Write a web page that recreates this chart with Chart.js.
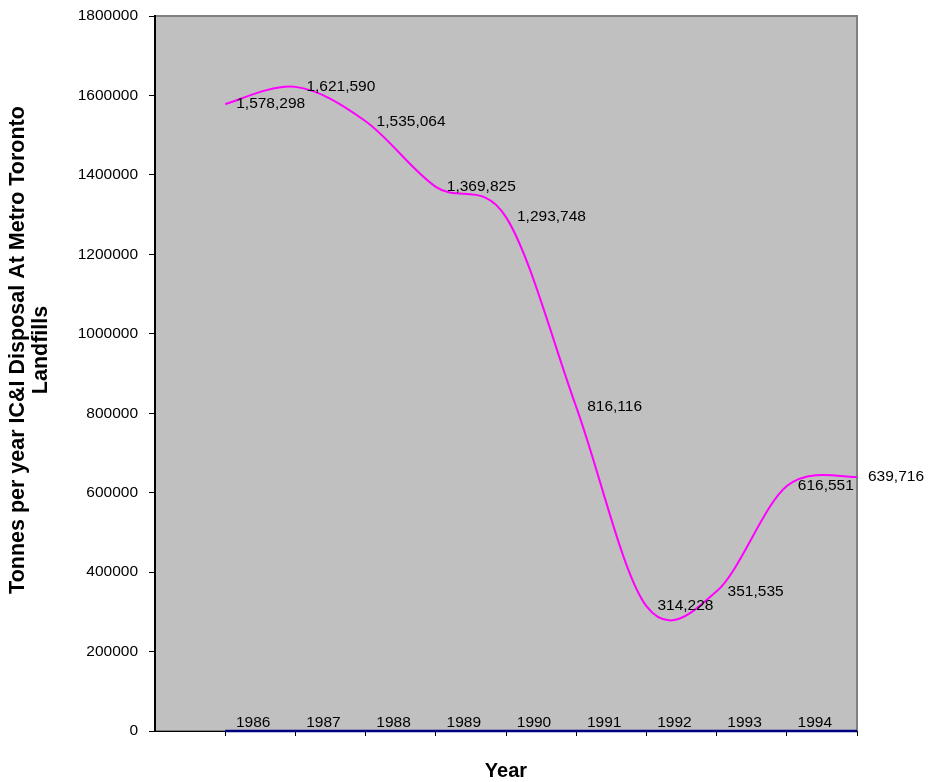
<!DOCTYPE html>
<html>
<head>
<meta charset="utf-8">
<script src="https://cdn.jsdelivr.net/npm/chart.js@4/dist/chart.umd.min.js"></script>
<style>
  body { margin: 0; background: #fff; }
  canvas { display: block; }
</style>
</head>
<body>
<canvas id="chart" width="928" height="782"></canvas>
<script>
// Year labels along the bottom axis (one per slot)
const yearLabels = ['1986', '1987', '1988', '1989', '1990', '1991', '1992', '1993', '1994'];
// Positions of the data points on the x scale
const pointPositions = [1, 2, 3, 4, 5, 6, 7, 8, 9, 10];
// Tonnes per year disposed
const disposalValues = [1578298, 1621590, 1535064, 1369825, 1293748, 816116, 314228, 351535, 616551, 639716];
// Zero baseline series drawn along the axis
const baselineValues = [0, 0, 0, 0, 0, 0, 0, 0, 0, 0];
// Axis titles
const yTitleLines = ['Tonnes per year IC&I Disposal At Metro Toronto', 'Landfills'];
const xTitle = 'Year';

const FONT = 'Liberation Sans, Arial, sans-serif';

// Grey plot background with a dark grey frame
const plotBackground = {
  id: 'plotBackground',
  beforeDraw(chart) {
    const { ctx, chartArea: a } = chart;
    ctx.save();
    ctx.fillStyle = '#c0c0c0';
    ctx.fillRect(a.left, a.top, a.right - a.left, a.bottom - a.top);
    ctx.strokeStyle = '#808080';
    ctx.lineWidth = 2;
    ctx.strokeRect(a.left, a.top, a.right - a.left, a.bottom - a.top);
    ctx.restore();
  }
};

// Excel-style smoothing: uniform Catmull-Rom control points on the line's own points
const uniformSpline = {
  id: 'uniformSpline',
  beforeDatasetDraw(chart, args) {
    if (args.index !== 0) return;
    const line = args.meta.dataset;
    if (line.updateControlPoints) line.updateControlPoints(chart.chartArea);
    const pts = args.meta.data;
    const n = pts.length;
    pts.forEach((p, i) => {
      const prev = pts[Math.max(i - 1, 0)];
      const next = pts[Math.min(i + 1, n - 1)];
      const dx = (next.x - prev.x) / 6;
      const dy = (next.y - prev.y) / 6;
      p.cp1x = p.x - dx;
      p.cp1y = p.y - dy;
      p.cp2x = p.x + dx;
      p.cp2y = p.y + dy;
    });
    line._path = undefined;
  }
};

// Value labels to the right of each point, plus the rotated y title
const valueLabels = {
  id: 'valueLabels',
  afterDatasetsDraw(chart) {
    const { ctx } = chart;
    const meta = chart.getDatasetMeta(0);
    ctx.save();
    ctx.font = '15.5px ' + FONT;
    ctx.fillStyle = '#000';
    ctx.textAlign = 'left';
    ctx.textBaseline = 'middle';
    meta.data.forEach((pt, i) => {
      ctx.fillText(disposalValues[i].toLocaleString('en-US'), pt.x + 11, pt.y);
    });
    ctx.restore();

    // y axis title, centred a little above the plot middle like the original
    ctx.save();
    ctx.font = 'bold 21.5px ' + FONT;
    ctx.fillStyle = '#000';
    ctx.textAlign = 'center';
    ctx.textBaseline = 'middle';
    ctx.translate(18, 350);
    ctx.rotate(-Math.PI / 2);
    yTitleLines.forEach((line, i) => ctx.fillText(line, 0, i * 23));
    ctx.restore();
  }
};

const ctx = document.getElementById('chart').getContext('2d');
new Chart(ctx, {
  type: 'line',
  data: {
    datasets: [
      {
        label: 'IC&I Disposal',
        data: pointPositions.map((x, i) => ({ x, y: disposalValues[i] })),
        borderColor: '#ff00ff',
        borderWidth: 2,
        pointRadius: 0,
        tension: 0.5,
        clip: false
      },
      {
        label: 'Baseline',
        data: pointPositions.map((x, i) => ({ x, y: baselineValues[i] })),
        borderColor: '#000080',
        borderWidth: 2.5,
        pointRadius: 0,
        tension: 0,
        clip: false
      }
    ]
  },
  options: {
    responsive: false,
    animation: false,
    layout: { padding: { top: 16, right: 71, bottom: 0, left: 0 } },
    plugins: {
      legend: { display: false },
      tooltip: { enabled: false }
    },
    scales: {
      x: {
        type: 'linear',
        min: 0,
        max: 10,
        afterFit(scale) {
          scale.height = 51;
          scale.paddingLeft = 0;
          scale.paddingRight = 0;
        },
        ticks: {
          stepSize: 1,
          autoSkip: false,
          maxRotation: 0,
          mirror: true,
          padding: -1,
          labelOffset: 28,
          color: '#000',
          font: { family: FONT, size: 15.5 },
          callback: v => (v >= 1 && v <= yearLabels.length ? yearLabels[v - 1] : '')
        },
        grid: {
          drawOnChartArea: false,
          tickLength: 5,
          color: c => (c.tick && c.tick.value === 0 ? 'rgba(0,0,0,0)' : '#000')
        },
        border: { color: '#000', width: 1 },
        title: {
          display: true,
          text: xTitle,
          color: '#000',
          font: { family: FONT, size: 20, weight: 'bold', lineHeight: 1.1 },
          padding: { top: 0, bottom: 0 }
        }
      },
      y: {
        min: 0,
        max: 1800000,
        afterFit(scale) {
          scale.width = 155;
          scale.paddingTop = 0;
          scale.paddingBottom = 0;
        },
        ticks: {
          stepSize: 200000,
          padding: 11,
          color: '#000',
          font: { family: FONT, size: 15.5 },
          callback: v => String(v)
        },
        grid: {
          drawOnChartArea: false,
          tickLength: 6,
          color: '#000'
        },
        border: { color: '#000', width: 2 }
      }
    }
  },
  plugins: [plotBackground, uniformSpline, valueLabels]
});
</script>
</body>
</html>
